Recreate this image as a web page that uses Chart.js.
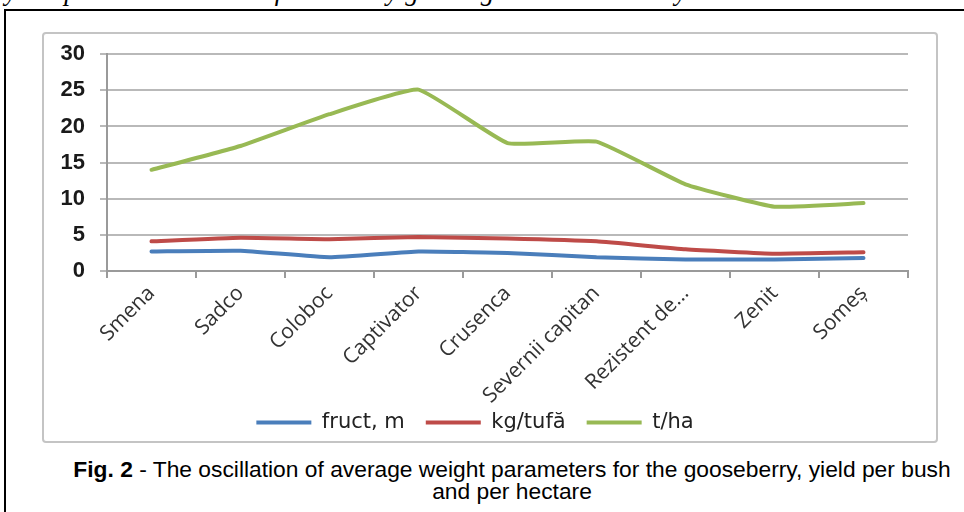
<!DOCTYPE html>
<html>
<head>
<meta charset="utf-8">
<script src="https://cdn.jsdelivr.net/npm/chart.js@4.4.1/dist/chart.umd.min.js"></script>
<style>
  html, body { margin: 0; padding: 0; background: #fff; }
  body { width: 964px; height: 512px; position: relative; overflow: hidden; }
  #toptext { position: absolute; left: 5px; top: -22px; font-family: "Liberation Serif", "Times New Roman", serif; font-style: italic; font-size: 27px; line-height: 27px; white-space: nowrap; color: #000; }
  #outer { position: absolute; left: 4px; top: 9px; width: 980px; height: 520px; border-left: 2px solid #000; border-top: 2px solid #000; box-sizing: border-box; }
  #inner { position: absolute; left: 42px; top: 32px; width: 896px; height: 411px; border: 2px solid #c4c4c4; border-radius: 4px; box-sizing: border-box; }
  #wrap { position: absolute; left: 42px; top: 26px; width: 896px; height: 417px; }
  #caption { position: absolute; left: 12px; width: 1000px; top: 458px; text-align: center; font-family: "Liberation Sans", Arial, sans-serif; font-size: 22.8px; line-height: 22px; color: #000; }
</style>
</head>
<body>
<div id="toptext">yield per bush are less influenced by growing conditions than yield.</div>
<div id="outer"></div>
<div id="inner"></div>
<div id="wrap"><canvas id="c"></canvas></div>
<div id="caption"><b>Fig. 2</b> - The oscillation of average weight parameters for the gooseberry, yield per bush<br>and per hectare</div>
<script>
const categories = ["Smena", "Sadco", "Coloboc", "Captivator", "Crusenca", "Severnii capitan", "Rezistent de...", "Zenit", "Someș"];
const fructM = [2.7, 2.8, 1.9, 2.7, 2.5, 1.9, 1.6, 1.6, 1.8];
const kgTufa = [4.1, 4.6, 4.4, 4.7, 4.5, 4.1, 3.0, 2.4, 2.6];
const tHa = [14.0, 17.3, 21.7, 25.1, 17.7, 17.9, 12.0, 8.9, 9.4];
const seriesNames = ["fruct, m", "kg/tufă", "t/ha"];
const yTicks = [0, 5, 10, 15, 20, 25, 30];

const colors = ["#4a7ebb", "#be4b48", "#98b954"];
const ds = [fructM, kgTufa, tHa].map((d, i) => ({
  label: seriesNames[i],
  data: d,
  borderColor: colors[i],
  backgroundColor: colors[i],
  borderWidth: 4,
  pointRadius: 0,
  tension: 0.12,
  borderCapStyle: 'round',
  fill: false
}));

// let rotated category labels run past the axis box (like the original, where one overlaps the legend)
const unclipLabels = {
  id: 'unclipLabels',
  afterLayout(chart) { chart.scales.x.bottom += 45; }
};

new Chart(document.getElementById('c'), {
  type: 'line',
  data: { labels: categories, datasets: ds },
  plugins: [unclipLabels],
  options: {
    responsive: true,
    maintainAspectRatio: false,
    animation: false,
    layout: { padding: { top: 11, right: 30, left: 0, bottom: 0 } },
    plugins: {
      tooltip: { enabled: false },
      legend: {
        position: 'bottom',
        labels: {
          usePointStyle: true,
          pointStyle: 'line',
          pointStyleWidth: 55,
          boxWidth: 55,
          boxHeight: 4,
          padding: 21,
          color: '#222222',
          font: { family: 'DejaVu Sans, Verdana, sans-serif', size: 21 }
        }
      }
    },
    scales: {
      x: {
        offset: true,
        grid: { offset: true, drawOnChartArea: false, drawTicks: true, tickLength: 7, color: '#9a9a9a', lineWidth: 2 },
        border: { color: '#9a9a9a', width: 2 },
        ticks: { minRotation: 45, maxRotation: 45, color: '#333333', padding: 3, font: { family: 'Open Sans, Liberation Sans, sans-serif', size: 21 } },
        afterFit: s => { s.height = 120; }
      },
      y: {
        min: 0, max: 30,
        afterBuildTicks: s => { s.ticks = yTicks.map(v => ({ value: v })); },
        grid: { color: '#b9b9b9', lineWidth: 2, tickLength: 7 },
        border: { color: '#9a9a9a', width: 2 },
        ticks: { color: '#1a1a1a', padding: 15, font: { family: 'Liberation Sans, Arial, sans-serif', size: 22, weight: 'bold' } },
        afterFit: s => { s.width = 65; }
      }
    }
  }
});
</script>
</body>
</html>
